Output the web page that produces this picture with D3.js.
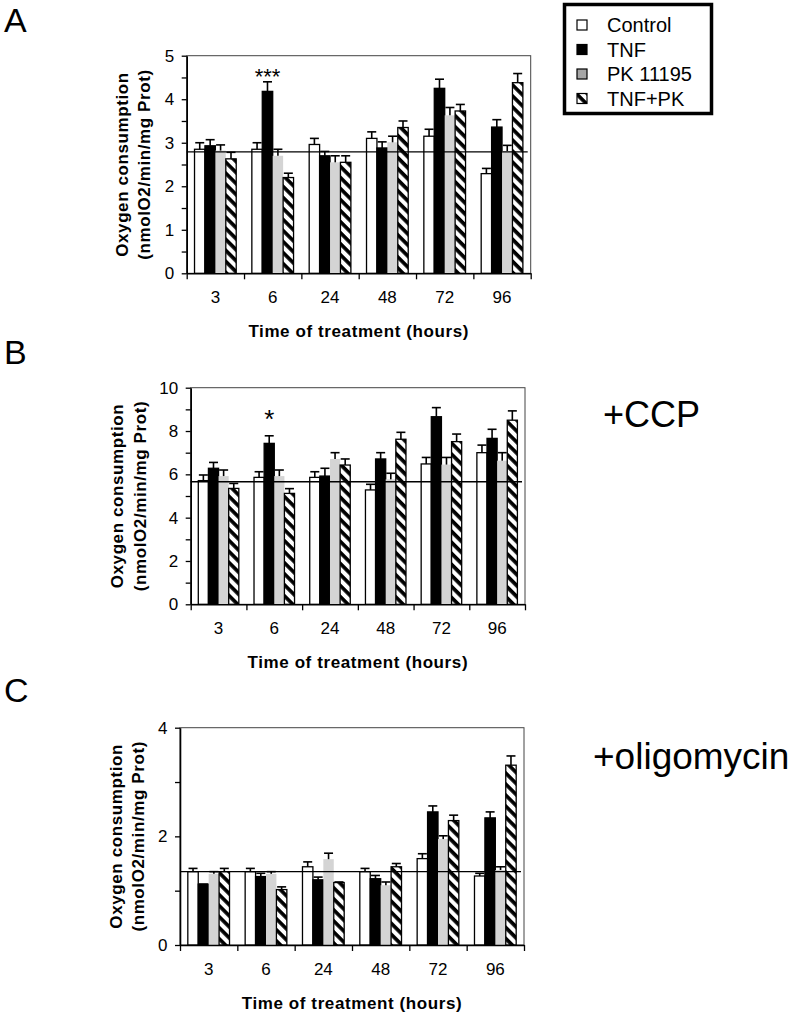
<!DOCTYPE html>
<html><head><meta charset="utf-8">
<script src="https://cdn.jsdelivr.net/npm/d3@7"></script>
<style>
body{margin:0;background:#fff}
svg{display:block}
text{font-family:"Liberation Sans",Arial,Helvetica,sans-serif;fill:#000}
</style>
</head><body>
<svg id="c" width="790" height="1014"></svg>
<script>
// ---------- DATA ----------
const times = ["3","6","24","48","72","96"];
const seriesNames = ["Control","TNF","PK 11195","TNF+PK"];

// Panel A (basal)
const aControl    = [2.85, 2.85, 2.96, 3.10, 3.15, 2.29];
const aControlErr = [0.15, 0.15, 0.14, 0.15, 0.16, 0.12];
const aTNF        = [2.93, 4.18, 2.70, 2.88, 4.25, 3.36];
const aTNFErr     = [0.14, 0.22, 0.10, 0.14, 0.21, 0.17];
const aPK         = [2.82, 2.70, 2.55, 3.01, 3.63, 2.81];
const aPKErr      = [0.13, 0.15, 0.15, 0.14, 0.18, 0.13];
const aTNFPK      = [2.63, 2.20, 2.55, 3.35, 3.73, 4.38];
const aTNFPKErr   = [0.15, 0.10, 0.15, 0.15, 0.15, 0.21];
const aRef = 2.79;
const aTicks = [0,1,2,3,4,5];
const aMinor = [0.5,1.5,2.5,3.5,4.5];

// Panel B (+CCP)
const bControl    = [5.71, 5.86, 5.86, 5.28, 6.48, 7.00];
const bControlErr = [0.26, 0.26, 0.26, 0.26, 0.30, 0.35];
const bTNF        = [6.28, 7.43, 5.92, 6.71, 8.66, 7.66];
const bTNFErr     = [0.27, 0.35, 0.36, 0.29, 0.42, 0.42];
const bPK         = [5.92, 5.92, 6.71, 5.77, 6.45, 6.63];
const bPKErr      = [0.28, 0.28, 0.29, 0.28, 0.33, 0.37];
const bTNFPK      = [5.35, 5.12, 6.43, 7.62, 7.51, 8.50];
const bTNFPKErr   = [0.23, 0.22, 0.28, 0.32, 0.35, 0.43];
const bRef = 5.66;
const bTicks = [0,2,4,6,8,10];
const bMinor = [1,3,5,7,9];

// Panel C (+oligomycin)
const cControl    = [1.35, 1.35, 1.44, 1.35, 1.59, 1.27];
const cControlErr = [0.06, 0.06, 0.09, 0.06, 0.09, 0.05];
const cTNF        = [1.12, 1.26, 1.20, 1.22, 2.45, 2.34];
const cTNFErr     = [0.00, 0.06, 0.05, 0.06, 0.11, 0.11];
const cPK         = [1.31, 1.31, 1.58, 1.10, 1.95, 1.38];
const cPKErr      = [0.04, 0.04, 0.11, 0.06, 0.06, 0.06];
const cTNFPK      = [1.35, 1.02, 1.15, 1.44, 2.29, 3.31];
const cTNFPKErr   = [0.06, 0.05, 0.01, 0.06, 0.10, 0.17];
const cRef = 1.35;
const cTicks = [0,2,4];
const cMinor = [1,3];

const yTitle1 = "Oxygen consumption";
const yTitle2 = "(nmolO2/min/mg Prot)";
const xTitle = "Time of treatment (hours)";

// ---------- DRAW ----------
const svg = d3.select("#c");
const defs = svg.append("defs");
const pat = defs.append("pattern").attr("id","hatch")
  .attr("patternUnits","userSpaceOnUse").attr("width",8).attr("height",7.8)
  .attr("patternTransform","rotate(45)");
pat.append("rect").attr("width",8).attr("height",7.8).attr("fill","#fff");
pat.append("rect").attr("width",8).attr("height",3.7).attr("fill","#000");

const fills = ["#fff","#000","#d4d4d4","url(#hatch)"];
const strokes = ["#000","#000","none","#000"];

const panels = [
  {vals:[aControl,aTNF,aPK,aTNFPK], errs:[aControlErr,aTNFErr,aPKErr,aTNFPKErr], ref:aRef,
   ticks:aTicks, minor:aMinor, max:5, x0:186.7, x1:530.7, y0:55.7, y1:273.3,
   label:"A", labelY:31.5, ast:"***", astIdx:1, astY:71, astSize:22, tx:[128,149.5]},
  {vals:[bControl,bTNF,bPK,bTNFPK], errs:[bControlErr,bTNFErr,bPKErr,bTNFPKErr], ref:bRef,
   ticks:bTicks, minor:bMinor, max:10, x0:190.7, x1:525, y0:387.7, y1:604.3,
   label:"B", labelY:364, ast:"*", astIdx:1, astY:413.5, astSize:26, tx:[122.7,146]},
  {vals:[cControl,cTNF,cPK,cTNFPK], errs:[cControlErr,cTNFErr,cPKErr,cTNFPKErr], ref:cRef,
   ticks:cTicks, minor:cMinor, max:4, x0:180, x1:524, y0:727.7, y1:945,
   label:"C", labelY:702, ast:null, tx:[121.7,144.3]}
];

panels.forEach(p => {
  const g = svg.append("g");
  const y = d3.scaleLinear().domain([0,p.max]).range([p.y1,p.y0]);
  const x = d3.scaleBand().domain(times).range([p.x0,p.x1]).padding(0);
  const gw = x.bandwidth();
  const off = 0.75*gw/5.5;
  const xi = d3.scaleBand().domain(seriesNames).range([off, gw-off]).padding(0);
  const bw = xi.bandwidth();

  // frame
  g.append("rect").attr("x",p.x0).attr("y",p.y0).attr("width",p.x1-p.x0).attr("height",p.y1-p.y0)
    .attr("fill","none").attr("stroke","#444").attr("stroke-width",1);

  // bars
  seriesNames.forEach((s,si) => {
    const data = times.map((t,i)=>({t, v:p.vals[si][i], e:p.errs[si][i]}));
    g.append("g").selectAll("rect").data(data).join("rect")
      .attr("x", d => x(d.t)+xi(s))
      .attr("y", d => y(d.v))
      .attr("width", bw)
      .attr("height", d => y(0)-y(d.v))
      .attr("fill", fills[si])
      .attr("stroke", strokes[si])
      .attr("stroke-width", 1.3);
  });
  // error bars
  seriesNames.forEach((s,si) => {
    const data = times.map((t,i)=>({t, v:p.vals[si][i], e:p.errs[si][i]}));
    const eg = g.append("g").attr("stroke","#000").attr("stroke-width",1.6);
    eg.selectAll("line.v").data(data).join("line").attr("class","v")
      .attr("x1", d => x(d.t)+xi(s)+bw/2).attr("x2", d => x(d.t)+xi(s)+bw/2)
      .attr("y1", d => y(d.v)).attr("y2", d => y(d.v+d.e));
    eg.selectAll("line.c").data(data).join("line").attr("class","c")
      .attr("x1", d => x(d.t)+xi(s)+bw/2-4.5).attr("x2", d => x(d.t)+xi(s)+bw/2+4.5)
      .attr("y1", d => y(d.v+d.e)).attr("y2", d => y(d.v+d.e));
  });

  // reference line
  g.append("line").attr("x1",p.x0).attr("x2",p.x1-3).attr("y1",y(p.ref)).attr("y2",y(p.ref))
    .attr("stroke","#000").attr("stroke-width",1.4);

  // y axis
  const ya = g.append("g").attr("transform",`translate(${p.x0},0)`)
    .call(d3.axisLeft(y).tickValues(p.ticks).tickFormat(d3.format("d"))
      .tickSize(5).tickSizeOuter(0).tickPadding(7.5));
  ya.select(".domain").attr("stroke","#000").attr("stroke-width",1.6);
  ya.selectAll(".tick line").attr("stroke","#000").attr("stroke-width",1.3);
  ya.selectAll("text").attr("font-size",17).attr("font-family","Liberation Sans, Arial, sans-serif");
  const ym = g.append("g").attr("transform",`translate(${p.x0},0)`)
    .call(d3.axisLeft(y).tickValues(p.minor).tickSize(5).tickFormat(""));
  ym.select(".domain").remove();
  ym.selectAll(".tick line").attr("stroke","#000").attr("stroke-width",1.3);

  // x axis (group boundaries)
  const xb = d3.scaleLinear().domain([0,times.length]).range([p.x0,p.x1]);
  const xa = g.append("g").attr("transform",`translate(0,${p.y1})`)
    .call(d3.axisBottom(xb).tickValues(d3.range(0,times.length+1)).tickSize(6).tickSizeOuter(0).tickFormat(""));
  xa.select(".domain").attr("stroke","#000").attr("stroke-width",1.6);
  xa.selectAll(".tick line").attr("stroke","#000").attr("stroke-width",1.3);
  const xl = g.append("g").attr("transform",`translate(0,${p.y1})`)
    .call(d3.axisBottom(x).tickSize(0).tickPadding(18));
  xl.select(".domain").remove();
  xl.selectAll("text").attr("font-size",17).attr("font-family","Liberation Sans, Arial, sans-serif");

  // titles
  g.append("text").attr("x",(p.x0+p.x1)/2).attr("y",p.y1+64).attr("text-anchor","middle")
    .attr("font-size",17).attr("font-weight","bold").attr("letter-spacing",0.6).text(xTitle);
  const cy = (p.y0+p.y1)/2;
  [yTitle1,yTitle2].forEach((t,i)=>{
    g.append("text").attr("transform",`translate(${p.tx[i]},${cy}) rotate(-90)`)
      .attr("text-anchor","middle").attr("font-size",17).attr("font-weight","bold")
      .attr("letter-spacing",0.6).text(t);
  });

  // panel letter
  svg.append("text").attr("x",4).attr("y",p.labelY).attr("font-size",34).text(p.label);

  // significance
  if (p.ast) {
    const t = times[p.astIdx];
    g.append("text").attr("x", x(t)+xi(seriesNames[1])+bw/2)
      .attr("y", p.astY + 0.57*p.astSize).attr("text-anchor","middle")
      .attr("font-size",p.astSize).text(p.ast);
  }
});

// side labels
svg.append("text").attr("x",603).attr("y",426.7).attr("font-size",36).text("+CCP");
svg.append("text").attr("x",593).attr("y",769.3).attr("font-size",37).text("+oligomycin");

// legend
const lg = svg.append("g");
lg.append("rect").attr("x",564.5).attr("y",4.5).attr("width",147).attr("height",109)
  .attr("fill","#fff").attr("stroke","#000").attr("stroke-width",3.5);
const legFills = ["#fff","#000","#a6a6a6","url(#hatch)"];
const ly = d3.scalePoint().domain(seriesNames).range([25,98.5]);
lg.selectAll("rect.sw").data(seriesNames).join("rect").attr("class","sw")
  .attr("x",577).attr("y",d=>ly(d)-5).attr("width",10).attr("height",10)
  .attr("fill",(d,i)=>legFills[i]).attr("stroke","#000").attr("stroke-width",1.2);
lg.selectAll("text").data(seriesNames).join("text")
  .attr("x",607).attr("y",d=>ly(d)+7).attr("font-size",20).text(d=>d);
</script>
</body></html>
